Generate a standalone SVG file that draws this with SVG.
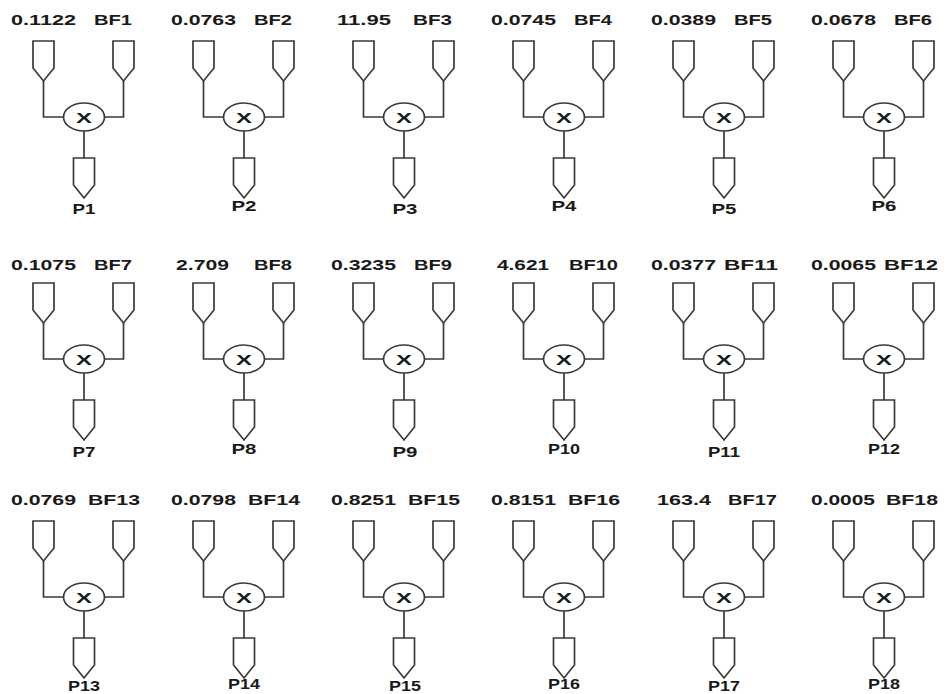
<svg xmlns="http://www.w3.org/2000/svg" xmlns:xlink="http://www.w3.org/1999/xlink" width="945" height="694" viewBox="0 0 945 694">
<style>
.sh{fill:#fff;stroke:#3a3a3a;stroke-width:1.7;stroke-linejoin:miter}
.cn{fill:none;stroke:#3a3a3a;stroke-width:1.7}
.t{font-family:"Liberation Sans",Arial,sans-serif;font-weight:bold;font-size:14px;fill:#1a1a1a}
.x{font-family:"Liberation Sans",Arial,sans-serif;font-weight:bold;font-size:15px;fill:#1a1a1a;text-anchor:middle}
.p{font-family:"Liberation Sans",Arial,sans-serif;font-weight:bold;font-size:15px;fill:#1a1a1a;text-anchor:middle}
</style>
<defs>
<polygon id="pent" class="sh" points="-10.5,0 10.5,0 10.5,27 0,40 -10.5,27"/>
<g id="mod">
<use xlink:href="#pent" x="-40.5" y="-76"/>
<use xlink:href="#pent" x="39.5" y="-76"/>
<ellipse class="sh" cx="0" cy="0" rx="20.5" ry="14"/>
<text class="x" x="0" y="5.5" textLength="16" lengthAdjust="spacingAndGlyphs">X</text>
<use xlink:href="#pent" x="0" y="41"/>
</g>
<path id="con" class="cn" d="M-40.5,-36V0H-20.5M39.5,-36V0H20.5M0,14V41"/>
</defs>
<rect width="945" height="694" fill="#fff"/>
<g id="connectors">
<use xlink:href="#con" x="84" y="117"/><use xlink:href="#con" x="244" y="117"/><use xlink:href="#con" x="404" y="117"/><use xlink:href="#con" x="564" y="117"/><use xlink:href="#con" x="724" y="117"/><use xlink:href="#con" x="884" y="117"/>
<use xlink:href="#con" x="84" y="359"/><use xlink:href="#con" x="244" y="359"/><use xlink:href="#con" x="404" y="359"/><use xlink:href="#con" x="564" y="359"/><use xlink:href="#con" x="724" y="359"/><use xlink:href="#con" x="884" y="359"/>
<use xlink:href="#con" x="84" y="597"/><use xlink:href="#con" x="244" y="597"/><use xlink:href="#con" x="404" y="597"/><use xlink:href="#con" x="564" y="597"/><use xlink:href="#con" x="724" y="597"/><use xlink:href="#con" x="884" y="597"/>
</g>
<g id="n1"><use xlink:href="#mod" x="84" y="117"/><text class="t" x="11" y="25" textLength="65" lengthAdjust="spacingAndGlyphs">0.1122</text><text class="t" x="94" y="25" textLength="38" lengthAdjust="spacingAndGlyphs">BF1</text><text class="p" x="84" y="214" textLength="23" lengthAdjust="spacingAndGlyphs">P1</text></g>
<g id="n2"><use xlink:href="#mod" x="244" y="117"/><text class="t" x="171" y="25" textLength="65" lengthAdjust="spacingAndGlyphs">0.0763</text><text class="t" x="254" y="25" textLength="38" lengthAdjust="spacingAndGlyphs">BF2</text><text class="p" x="244" y="211" textLength="25" lengthAdjust="spacingAndGlyphs">P2</text></g>
<g id="n3"><use xlink:href="#mod" x="404" y="117"/><text class="t" x="337" y="25" textLength="54" lengthAdjust="spacingAndGlyphs">11.95</text><text class="t" x="413" y="25" textLength="39" lengthAdjust="spacingAndGlyphs">BF3</text><text class="p" x="405" y="214" textLength="25" lengthAdjust="spacingAndGlyphs">P3</text></g>
<g id="n4"><use xlink:href="#mod" x="564" y="117"/><text class="t" x="491" y="25" textLength="65" lengthAdjust="spacingAndGlyphs">0.0745</text><text class="t" x="574" y="25" textLength="38" lengthAdjust="spacingAndGlyphs">BF4</text><text class="p" x="564" y="211" textLength="25" lengthAdjust="spacingAndGlyphs">P4</text></g>
<g id="n5"><use xlink:href="#mod" x="724" y="117"/><text class="t" x="651" y="25" textLength="65" lengthAdjust="spacingAndGlyphs">0.0389</text><text class="t" x="734" y="25" textLength="38" lengthAdjust="spacingAndGlyphs">BF5</text><text class="p" x="724" y="214" textLength="25" lengthAdjust="spacingAndGlyphs">P5</text></g>
<g id="n6"><use xlink:href="#mod" x="884" y="117"/><text class="t" x="811" y="25" textLength="65" lengthAdjust="spacingAndGlyphs">0.0678</text><text class="t" x="894" y="25" textLength="38" lengthAdjust="spacingAndGlyphs">BF6</text><text class="p" x="884" y="211" textLength="25" lengthAdjust="spacingAndGlyphs">P6</text></g>
<g id="n7"><use xlink:href="#mod" x="84" y="359"/><text class="t" x="11" y="270" textLength="65" lengthAdjust="spacingAndGlyphs">0.1075</text><text class="t" x="94" y="270" textLength="38" lengthAdjust="spacingAndGlyphs">BF7</text><text class="p" x="84" y="457" textLength="23" lengthAdjust="spacingAndGlyphs">P7</text></g>
<g id="n8"><use xlink:href="#mod" x="244" y="359"/><text class="t" x="176" y="270" textLength="53" lengthAdjust="spacingAndGlyphs">2.709</text><text class="t" x="254" y="270" textLength="38" lengthAdjust="spacingAndGlyphs">BF8</text><text class="p" x="244" y="454" textLength="25" lengthAdjust="spacingAndGlyphs">P8</text></g>
<g id="n9"><use xlink:href="#mod" x="404" y="359"/><text class="t" x="331" y="270" textLength="65" lengthAdjust="spacingAndGlyphs">0.3235</text><text class="t" x="414" y="270" textLength="38" lengthAdjust="spacingAndGlyphs">BF9</text><text class="p" x="405" y="457" textLength="25" lengthAdjust="spacingAndGlyphs">P9</text></g>
<g id="n10"><use xlink:href="#mod" x="564" y="359"/><text class="t" x="497" y="270" textLength="52" lengthAdjust="spacingAndGlyphs">4.621</text><text class="t" x="569" y="270" textLength="49" lengthAdjust="spacingAndGlyphs">BF10</text><text class="p" x="564" y="454" textLength="32" lengthAdjust="spacingAndGlyphs">P10</text></g>
<g id="n11"><use xlink:href="#mod" x="724" y="359"/><text class="t" x="651" y="270" textLength="65" lengthAdjust="spacingAndGlyphs">0.0377</text><text class="t" x="724" y="270" textLength="54" lengthAdjust="spacingAndGlyphs">BF11</text><text class="p" x="724" y="457" textLength="32" lengthAdjust="spacingAndGlyphs">P11</text></g>
<g id="n12"><use xlink:href="#mod" x="884" y="359"/><text class="t" x="811" y="270" textLength="65" lengthAdjust="spacingAndGlyphs">0.0065</text><text class="t" x="884" y="270" textLength="54" lengthAdjust="spacingAndGlyphs">BF12</text><text class="p" x="884" y="454" textLength="32" lengthAdjust="spacingAndGlyphs">P12</text></g>
<g id="n13"><use xlink:href="#mod" x="84" y="597"/><text class="t" x="11" y="505" textLength="65" lengthAdjust="spacingAndGlyphs">0.0769</text><text class="t" x="88" y="505" textLength="52" lengthAdjust="spacingAndGlyphs">BF13</text><text class="p" x="84" y="690.5" textLength="32" lengthAdjust="spacingAndGlyphs">P13</text></g>
<g id="n14"><use xlink:href="#mod" x="244" y="597"/><text class="t" x="171" y="505" textLength="65" lengthAdjust="spacingAndGlyphs">0.0798</text><text class="t" x="248" y="505" textLength="52" lengthAdjust="spacingAndGlyphs">BF14</text><text class="p" x="244" y="689" textLength="32" lengthAdjust="spacingAndGlyphs">P14</text></g>
<g id="n15"><use xlink:href="#mod" x="404" y="597"/><text class="t" x="331" y="505" textLength="65" lengthAdjust="spacingAndGlyphs">0.8251</text><text class="t" x="408" y="505" textLength="52" lengthAdjust="spacingAndGlyphs">BF15</text><text class="p" x="405" y="690.5" textLength="32" lengthAdjust="spacingAndGlyphs">P15</text></g>
<g id="n16"><use xlink:href="#mod" x="564" y="597"/><text class="t" x="491" y="505" textLength="65" lengthAdjust="spacingAndGlyphs">0.8151</text><text class="t" x="568" y="505" textLength="52" lengthAdjust="spacingAndGlyphs">BF16</text><text class="p" x="564" y="689" textLength="32" lengthAdjust="spacingAndGlyphs">P16</text></g>
<g id="n17"><use xlink:href="#mod" x="724" y="597"/><text class="t" x="657" y="505" textLength="54" lengthAdjust="spacingAndGlyphs">163.4</text><text class="t" x="728" y="505" textLength="49" lengthAdjust="spacingAndGlyphs">BF17</text><text class="p" x="724" y="690.5" textLength="32" lengthAdjust="spacingAndGlyphs">P17</text></g>
<g id="n18"><use xlink:href="#mod" x="884" y="597"/><text class="t" x="811" y="505" textLength="64" lengthAdjust="spacingAndGlyphs">0.0005</text><text class="t" x="886" y="505" textLength="52" lengthAdjust="spacingAndGlyphs">BF18</text><text class="p" x="884" y="689" textLength="32" lengthAdjust="spacingAndGlyphs">P18</text></g>
</svg>
